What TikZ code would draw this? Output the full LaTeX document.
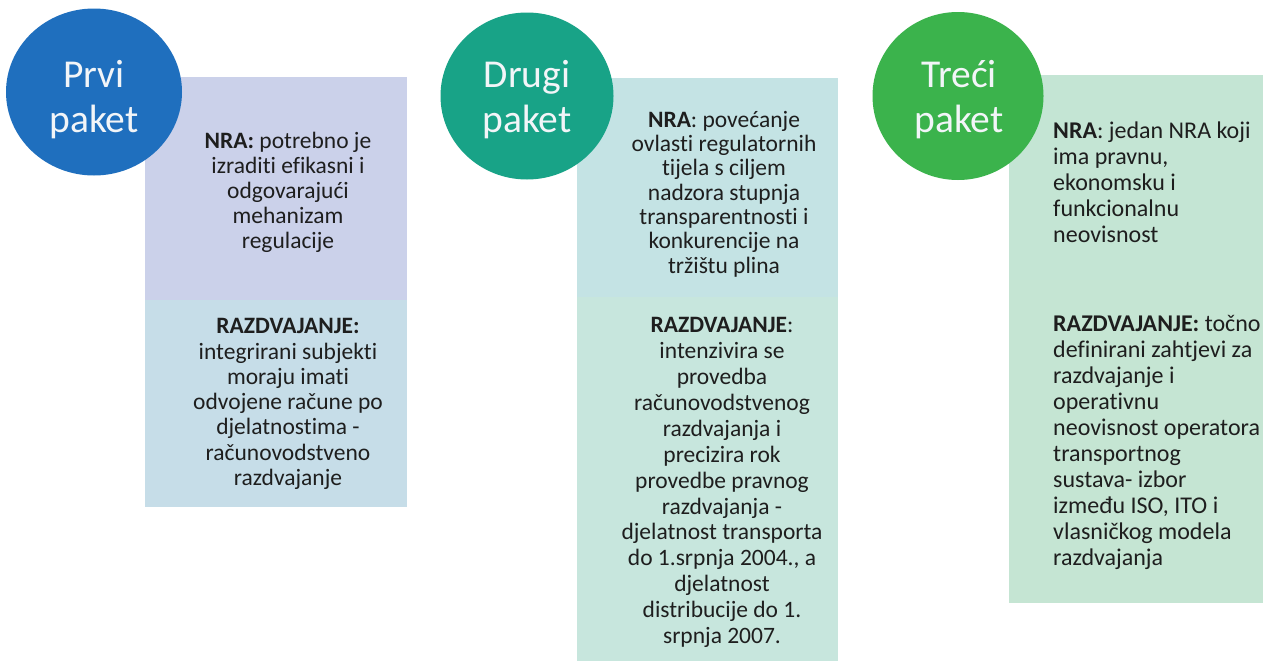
\documentclass[tikz,border=0pt]{standalone}
\usepackage{fontspec}
\setmainfont{Carlito}[Ligatures=NoCommon]
\usetikzlibrary{shapes.geometric}
\definecolor{cprvi}{HTML}{1F6FBE}
\definecolor{cdrugi}{HTML}{18A387}
\definecolor{ctreci}{HTML}{3BB34C}
\definecolor{bonetop}{HTML}{CBD1EA}
\definecolor{bonebot}{HTML}{C6DDE8}
\definecolor{btwotop}{HTML}{C4E3E4}
\definecolor{btwobot}{HTML}{C7E6DD}
\definecolor{bthreetop}{HTML}{C4E5D4}
\definecolor{bthreebot}{HTML}{C5E5D3}
\definecolor{txt}{HTML}{1E1E1E}
\definecolor{disctxt}{HTML}{F2F5F8}
\begin{document}
\begin{tikzpicture}[x=1pt,y=-1pt,
  boxpart/.style={draw=none, inner sep=0pt, outer sep=0pt, anchor=north west},
  disc/.style={ellipse, draw=none, inner sep=0pt, outer sep=0pt},
  disctext/.style={text=disctxt, inner sep=0pt, align=center, font=\fontsize{39.5}{45}\selectfont},
  bodytext/.style={text=txt, inner sep=0pt, align=center},
  lefttext/.style={text=txt, inner sep=0pt, align=left, anchor=west, font=\fontsize{24}{26}\selectfont}]
\useasboundingbox[fill=white] (0,0) rectangle (1266,664);
% box 1
\node[boxpart, fill=bonetop, minimum width=262pt, minimum height=223pt] (b1t) at (145,77) {};
\node[boxpart, fill=bonebot, minimum width=262pt, minimum height=207pt] (b1b) at (145,300) {};
% box 2
\node[boxpart, fill=btwotop, minimum width=261pt, minimum height=219pt] (b2t) at (577,78) {};
\node[boxpart, fill=btwobot, minimum width=261pt, minimum height=364pt] (b2b) at (577,297) {};
% box 3
\node[boxpart, fill=bthreetop, minimum width=254pt, minimum height=205pt] (b3t) at (1009,75) {};
\node[boxpart, fill=bthreebot, minimum width=254pt, minimum height=323pt] (b3b) at (1009,280) {};
% discs
\node[disc, fill=cprvi, minimum width=176pt, minimum height=167pt] (d1) at (94,92) {};
\node[disc, fill=cdrugi, minimum width=173pt, minimum height=167pt] (d2) at (527,96) {};
\node[disc, fill=ctreci, minimum width=171pt, minimum height=168pt] (d3) at (958,96) {};
\node[disctext] (t1) at (94,100) {Prvi\\paket};
\node[disctext] (t2) at (527,100) {Drugi\\paket};
\node[disctext] (t3) at (959,100) {Treći\\paket};
% box texts
\node[bodytext, font=\fontsize{23.5}{25}\selectfont] (n1) at (288,192) {\textbf{NRA:} potrebno je\\izraditi efikasni i\\odgovarajući\\mehanizam\\regulacije};
\node[bodytext, font=\fontsize{23.5}{25.3}\selectfont] (r1) at (288,404) {\textbf{RAZDVAJANJE:}\\integrirani subjekti\\moraju imati\\odvojene račune po\\djelatnostima -\\računovodstveno\\razdvajanje};
\node[bodytext, font=\fontsize{23.5}{24.3}\selectfont] (n2) at (724,194) {\textbf{NRA}: povećanje\\ovlasti regulatornih\\tijela s ciljem\\nadzora stupnja\\transparentnosti i\\konkurencije na\\tržištu plina};
\node[bodytext, font=\fontsize{23.5}{25.9}\selectfont] (r2) at (722,482.5) {\textbf{RAZDVAJANJE}:\\intenzivira se\\provedba\\računovodstvenog\\razdvajanja i\\precizira rok\\provedbe pravnog\\razdvajanja -\\djelatnost transporta\\do 1.srpnja 2004., a\\djelatnost\\distribucije do 1.\\srpnja 2007.};
\node[lefttext] (n3) at (1053,182) {\textbf{NRA}: jedan NRA koji\\ima pravnu,\\ekonomsku i\\funkcionalnu\\neovisnost};
\node[lefttext] (r3) at (1053,442) {\textbf{RAZDVAJANJE:} točno\\definirani zahtjevi za\\razdvajanje i\\operativnu\\neovisnost operatora\\transportnog\\sustava- izbor\\između ISO, ITO i\\vlasničkog modela\\razdvajanja};
\end{tikzpicture}
\end{document}
